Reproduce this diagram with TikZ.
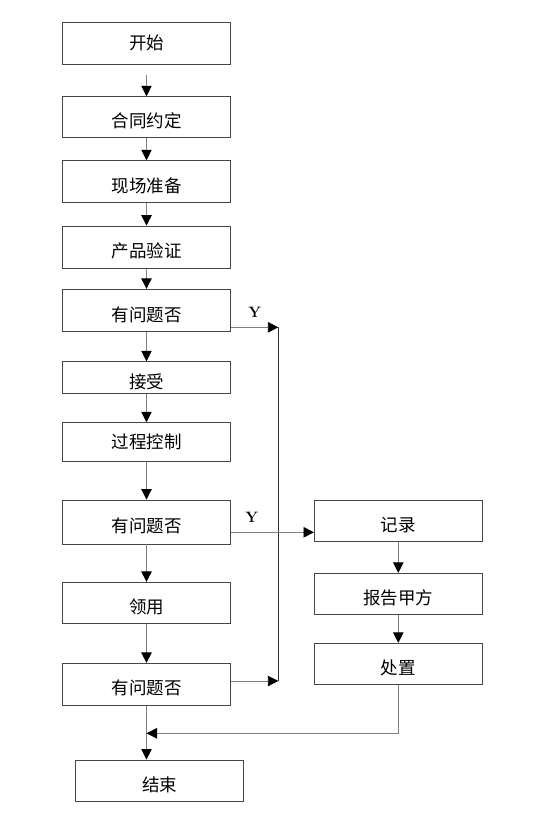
\documentclass[tikz,border=0pt]{standalone}
\usepackage{fontspec}
\newfontfamily\cjk{Noto Sans CJK SC}
\usepackage{tikz}
\usetikzlibrary{arrows.meta}

\begin{document}
\begin{tikzpicture}[x=1pt, y=-1pt,
  box/.style={rectangle, draw=gray!55!black, line width=0.9pt, minimum width=168pt, inner sep=0pt,
    text height=23pt, text depth=2pt, font=\cjk\fontsize{17.5}{17.5}\selectfont},
  high/.style={text height=14pt},
  flow/.style={draw=gray, line width=0.9pt, -{Triangle[length=10.5pt,width=10.5pt,color=black]}},
  link/.style={draw=gray!40!black, line width=0.9pt},
  ylab/.style={font=\bfseries\fontsize{15}{15}\selectfont}]
\useasboundingbox (0,0) rectangle (554,820);

% Main column
\node[box, high, minimum height=42pt] (start) at (146.5,43.3) {开始};
\node[box, minimum height=40.6pt] (contract) at (146.5,117) {合同约定};
\node[box, minimum height=42pt] (prep) at (146.5,181.7) {现场准备};
\node[box, minimum height=42.3pt] (verify) at (146.5,247.2) {产品验证};
\node[box, minimum height=42.4pt] (qa) at (146.5,310.5) {有问题否};
\node[box, minimum height=31.6pt] (accept) at (146.5,377.5) {接受};
\node[box, high, minimum height=39pt] (control) at (146.5,442.2) {过程控制};
\node[box, minimum height=44pt] (qb) at (146.5,522) {有问题否};
\node[box, minimum height=41pt] (use) at (146.5,602.8) {领用};
\node[box, minimum height=41.7pt] (qc) at (146.5,684.2) {有问题否};
\node[box, minimum height=41.7pt] (finish) at (159.5,780.8) {结束};

% Right column
\node[box, minimum height=41.7pt] (record) at (398.3,520.8) {记录};
\node[box, minimum height=41pt] (report) at (398.3,593.8) {报告甲方};
\node[box, minimum height=41pt] (handle) at (398.3,663.8) {处置};

% Arrows down the main column
\draw[flow, shorten <=10pt] (start) -- (contract);
\draw[flow] (contract) -- (prep);
\draw[flow] (prep) -- (verify);
\draw[flow] (verify) -- (qa);
\draw[flow] (qa) -- (accept);
\draw[flow] (accept) -- (control);
\draw[flow] (control) -- (qb);
\draw[flow] (qb) -- (use);
\draw[flow] (use) -- (qc);
\draw[flow] (qc.south) -- (qc.south |- finish.north);

% Y branches
\coordinate (bustop) at (278.3,327.3);
\coordinate (busbot) at (278.3,681);
\coordinate (recin) at (314,532.3);
\coordinate (back) at (398.3,733.3);
\draw[flow] (qa.east |- bustop) -- (bustop) node[midway, above=6pt, ylab] {Y};
\draw[link] (bustop) -- (busbot);
\draw[flow] (qc.east |- busbot) -- (busbot);
\draw[flow] (qb.east |- recin) -- (recin) node[pos=0.25, above=6pt, ylab] {Y};

% Right column arrows
\draw[flow] (record) -- (report);
\draw[flow] (report) -- (handle);
\draw[flow] (handle.south) -- (back) -- (qc.south |- back);
\end{tikzpicture}
\end{document}
